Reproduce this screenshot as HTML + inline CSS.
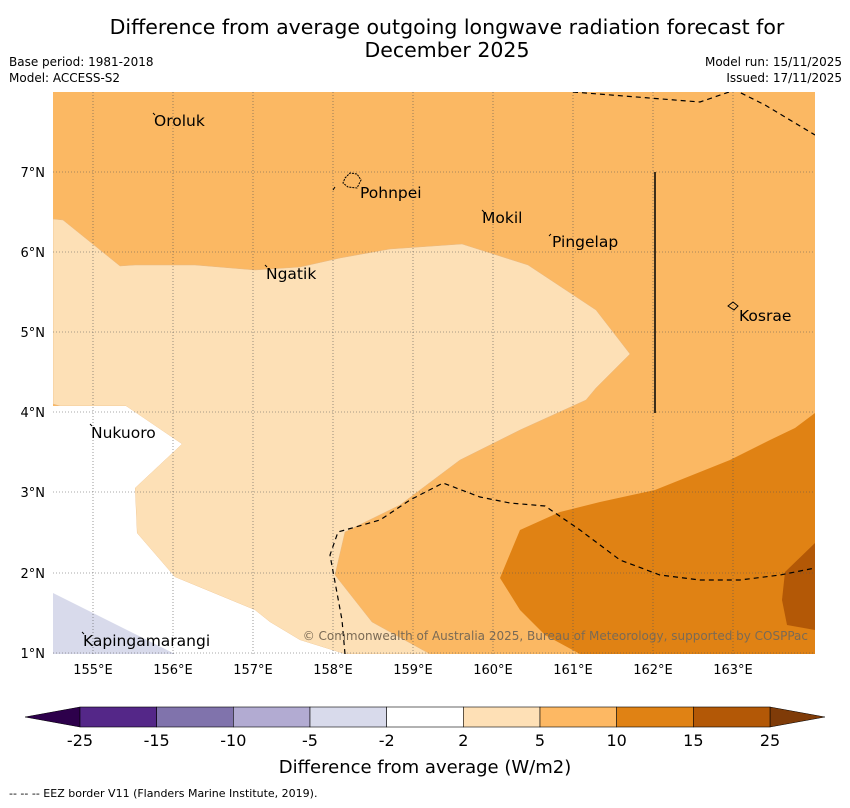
<!DOCTYPE html>
<html><head><meta charset="utf-8"><style>
body{margin:0;background:#fff;font-family:"DejaVu Sans","Liberation Sans",sans-serif;}
svg text{font-family:"DejaVu Sans","Liberation Sans",sans-serif;}
</style></head><body>
<svg width="850" height="804" xmlns="http://www.w3.org/2000/svg">
<text x="447" y="34" font-size="20.5" text-anchor="middle">Difference from average outgoing longwave radiation forecast for</text>
<text x="447" y="57" font-size="20.5" text-anchor="middle">December 2025</text>
<text x="9" y="66" font-size="12">Base period: 1981-2018</text>
<text x="9" y="82" font-size="12">Model: ACCESS-S2</text>
<text x="842" y="66" font-size="12" text-anchor="end">Model run: 15/11/2025</text>
<text x="842" y="82" font-size="12" text-anchor="end">Issued: 17/11/2025</text>
<defs><clipPath id="mc"><rect x="53" y="92" width="762" height="562"/></clipPath></defs>
<g clip-path="url(#mc)">
<rect x="53" y="92" width="762" height="562" fill="#fbb863"/>
<polygon fill="#fde0b6" stroke="#e8b880" stroke-width="0.5" points="53,219 63,220 120,266 135,265 195,265 255,270 300,267 340,258 390,249 462,244 528,265 596,310 630,354 596,388 586,400 520,430 460,460 400,505 345,532 335,575 372,622 430,654 345,654 300,640 270,622 255,610 175,577 137,533 135,488 182,444 126,406 60,406 53,404"/>
<polygon fill="#ffffff" points="53,406 126,406 182,444 135,488 137,533 175,577 255,610 270,622 300,640 345,654 53,654"/>
<polygon fill="#d8daeb" points="53,593 175,654 53,654"/>
<polygon fill="#e08214" points="815,413 795,428 770,440 730,460 690,476 655,490 600,502 560,512 520,530 500,578 520,610 545,635 580,654 815,654"/>
<polygon fill="#b35806" points="815,543 785,572 782,600 787,625 815,630"/>
<g stroke="#555" stroke-width="0.6" stroke-dasharray="1,2">
<line x1="93" y1="92" x2="93" y2="654"/><line x1="173" y1="92" x2="173" y2="654"/><line x1="253" y1="92" x2="253" y2="654"/><line x1="333" y1="92" x2="333" y2="654"/><line x1="413" y1="92" x2="413" y2="654"/><line x1="493" y1="92" x2="493" y2="654"/><line x1="573" y1="92" x2="573" y2="654"/><line x1="653" y1="92" x2="653" y2="654"/><line x1="733" y1="92" x2="733" y2="654"/>
<line x1="53" y1="172" x2="815" y2="172"/><line x1="53" y1="252" x2="815" y2="252"/><line x1="53" y1="332" x2="815" y2="332"/><line x1="53" y1="412" x2="815" y2="412"/><line x1="53" y1="492" x2="815" y2="492"/><line x1="53" y1="573" x2="815" y2="573"/><line x1="53" y1="653" x2="815" y2="653"/>
</g>
<polyline fill="none" stroke="#000" stroke-width="1.2" stroke-dasharray="5,4" points="573,92 700,102 735,90 765,105 815,135"/>
<polyline fill="none" stroke="#000" stroke-width="1.2" stroke-dasharray="5,4" points="345,654 342,620 330,555 338,532 380,520 410,500 443,483 480,497 510,503 545,506 580,530 620,560 660,575 700,580 740,580 780,575 815,568"/>
<line x1="655" y1="172" x2="655" y2="413" stroke="#000" stroke-width="1.5"/>
<path d="M345,178 L350,173 L357,174 L361,180 L357,188 L348,187 L343,183 Z" fill="none" stroke="#000" stroke-dasharray="2,1"/>
<path d="M728,306 L733,302 L738,306 L734,310 Z" fill="none" stroke="#000"/>
<g stroke="#000" stroke-width="1">
<line x1="153" y1="113" x2="155" y2="115"/><line x1="482" y1="210" x2="484" y2="212"/><line x1="549" y1="236" x2="551" y2="234"/><line x1="265" y1="265" x2="267" y2="267"/><line x1="90" y1="424" x2="92" y2="426"/><line x1="82" y1="632" x2="84" y2="634"/><line x1="333" y1="190" x2="335" y2="187"/>
</g>
<g font-size="15.5" fill="#000">
<text x="154" y="126">Oroluk</text><text x="360" y="198">Pohnpei</text><text x="482" y="223">Mokil</text><text x="552" y="247">Pingelap</text><text x="266" y="279">Ngatik</text><text x="739" y="321">Kosrae</text><text x="91" y="438">Nukuoro</text><text x="83" y="646">Kapingamarangi</text>
</g>
<text x="808" y="640" font-size="12" fill="#7a6a55" text-anchor="end">© Commonwealth of Australia 2025, Bureau of Meteorology, supported by COSPPac</text>
</g>
<g font-size="13">
<text x="45" y="177" text-anchor="end">7°N</text><text x="45" y="257" text-anchor="end">6°N</text><text x="45" y="337" text-anchor="end">5°N</text><text x="45" y="417" text-anchor="end">4°N</text><text x="45" y="497" text-anchor="end">3°N</text><text x="45" y="578" text-anchor="end">2°N</text><text x="45" y="658" text-anchor="end">1°N</text>
</g>
<g font-size="13" text-anchor="middle">
<text x="93" y="674">155°E</text><text x="173" y="674">156°E</text><text x="253" y="674">157°E</text><text x="333" y="674">158°E</text><text x="413" y="674">159°E</text><text x="493" y="674">160°E</text><text x="573" y="674">161°E</text><text x="653" y="674">162°E</text><text x="733" y="674">163°E</text>
</g>
<g id="cb"></g>
<text x="425" y="773" font-size="18" text-anchor="middle">Difference from average (W/m2)</text>
<text x="9" y="797" font-size="11">--  --  -- EEZ border V11 (Flanders Marine Institute, 2019).</text>
</svg>
<script>
const cbColors=["#542788","#8073ac","#b2abd2","#d8daeb","#ffffff","#fee0b6","#fdb863","#e08214","#b35806"];
const cbLabels=["-25","-15","-10","-5","-2","2","5","10","15","25"];
const ns="http://www.w3.org/2000/svg";
const g=document.getElementById('cb');
const x0=80,x1=770,y0=707,h=20,w=(x1-x0)/cbColors.length;
function add(tag,attrs){const e=document.createElementNS(ns,tag);for(const k in attrs)e.setAttribute(k,attrs[k]);g.appendChild(e);return e;}
let l=add('polygon',{points:`${x0},${y0} 25,${y0+h/2} ${x0},${y0+h}`,fill:'#2d004b',stroke:'#000','stroke-width':0.5});


let r=add('polygon',{points:`${x1},${y0} 825,${y0+h/2} ${x1},${y0+h}`,fill:'#7f3b08',stroke:'#000','stroke-width':0.5});


cbColors.forEach((c,i)=>{
  const s=add('rect',{x:x0+i*w,y:y0,width:w,height:h,fill:c,stroke:'#000','stroke-width':0.6});
  
  
});
cbLabels.forEach((t,i)=>{
  const e=add('text',{x:x0+i*w,y:746,'font-size':16,'text-anchor':'middle'});
  e.textContent=t;
  
  
});
</script>
</body></html>
